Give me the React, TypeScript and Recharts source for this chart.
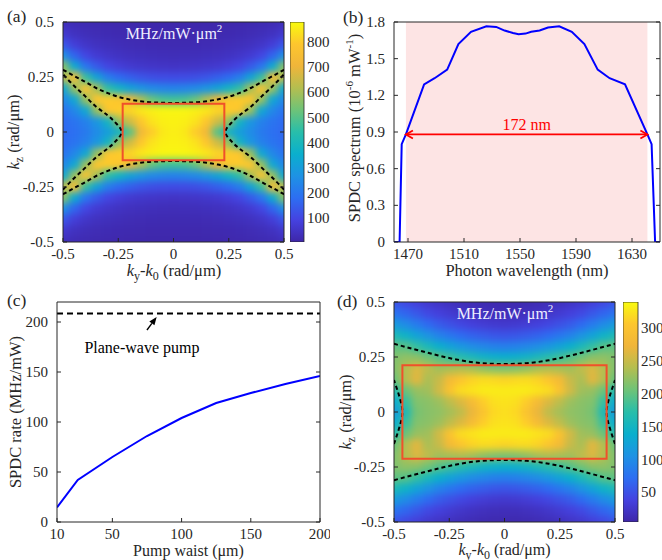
import React from 'react';
import {
  ComposedChart,
  Scatter,
  Line,
  Bar,
  XAxis,
  YAxis,
  ReferenceArea,
  ReferenceLine,
} from 'recharts';

const FONT = '"Liberation Serif", "Times New Roman", serif';
const INK = '#262626';
const TICK = { fill: INK, fontSize: 15, fontFamily: FONT };
const RED = '#ff0000';
const BOX_RED = '#f0502a';
const BLUE = '#0000ff';
const PINK = '#fde4e4';

// parula-like colour map, low -> high (equal steps)
const PARULA = ['#3e26a8', '#4542e0', '#2d6ef2', '#1e92e4', '#0aafcd', '#28beaa', '#6ec378', '#b4be50', '#f0b53a', '#fdc62e', '#f9fb0e'];

// (a) and (d): SPDC maps on a 0.05 rad/um grid. Only the ky>=0, kz>=0 quarter is kept,
// both maps are symmetric in ky and kz. Rows are kz, columns are ky (both = K_GRID).
const K_GRID = [0, 0.05, 0.1, 0.15, 0.2, 0.25, 0.3, 0.35, 0.4, 0.45, 0.5];
const K_STEP = 0.05;
const K_TICKS = [-0.5, -0.25, 0, 0.25, 0.5];

const MAP_A = [
  [860, 850, 800, 720, 500, 370, 300, 250, 210, 185, 170],
  [865, 860, 840, 790, 660, 580, 380, 280, 225, 195, 175],
  [870, 870, 860, 845, 815, 800, 790, 580, 330, 240, 195],
  [470, 480, 520, 610, 720, 790, 800, 790, 580, 330, 240],
  [230, 235, 250, 280, 320, 380, 450, 600, 780, 580, 330],
  [110, 112, 118, 130, 150, 175, 220, 320, 460, 750, 620],
  [50, 52, 55, 60, 68, 80, 100, 140, 200, 340, 560],
  [30, 31, 33, 36, 40, 46, 56, 72, 100, 160, 260],
  [20, 21, 22, 24, 26, 30, 35, 42, 55, 80, 130],
  [14, 14, 15, 16, 17, 19, 22, 26, 32, 42, 65],
  [10, 10, 10, 11, 12, 13, 15, 17, 20, 25, 35],
];
const MAP_A_RANGE: [number, number] = [5, 880];
const MAP_A_CBAR = [100, 200, 300, 400, 500, 600, 700, 800];
// dashed boundaries, [ky, kz] for ky >= 0
const A_OUTER = [[0, 0.132], [0.05, 0.133], [0.1, 0.135], [0.15, 0.14], [0.2, 0.148], [0.25, 0.16], [0.3, 0.178], [0.35, 0.2], [0.4, 0.228], [0.45, 0.255], [0.5, 0.283]];
const A_INNER = [[0.235, 0], [0.26, 0.04], [0.3, 0.077], [0.35, 0.115], [0.4, 0.163], [0.45, 0.21], [0.5, 0.262]];
const A_BOX = [0.23, 0.128];

const MAP_D = [
  [322, 318, 300, 270, 245, 232, 222, 218, 210, 160, 115],
  [325, 322, 310, 285, 262, 245, 228, 220, 215, 180, 135],
  [330, 330, 330, 325, 320, 300, 255, 230, 225, 205, 170],
  [315, 318, 320, 315, 305, 285, 250, 235, 265, 240, 205],
  [215, 218, 225, 235, 240, 235, 232, 245, 262, 240, 215],
  [140, 142, 148, 158, 170, 182, 195, 208, 220, 222, 215],
  [88, 90, 95, 102, 112, 125, 140, 158, 178, 195, 200],
  [52, 54, 58, 63, 70, 80, 92, 108, 125, 145, 160],
  [28, 29, 32, 36, 42, 50, 58, 70, 85, 100, 115],
  [15, 16, 18, 21, 25, 30, 36, 44, 55, 66, 78],
  [10, 10, 11, 13, 16, 19, 23, 28, 35, 43, 52],
];
const MAP_D_RANGE: [number, number] = [5, 340];
const MAP_D_CBAR = [50, 100, 150, 200, 250, 300];
const D_OUTER = [[0, 0.218], [0.1, 0.222], [0.2, 0.235], [0.3, 0.257], [0.4, 0.283], [0.5, 0.31]];
const D_INNER = [[0.462, 0], [0.47, 0.05], [0.485, 0.1], [0.5, 0.145]];
const D_BOX = [0.462, 0.212];

// (b) SPDC spectrum
const WAVELENGTH = [1460, 1464, 1465.5, 1468.5, 1481.5, 1489, 1498, 1506, 1515, 1526, 1533, 1539, 1545, 1549, 1554, 1558, 1564, 1570, 1578, 1587, 1596, 1605.5, 1614, 1625, 1641, 1644, 1646.5, 1650];
const SPECTRUM = [0, 0, 0.8, 0.88, 1.29, 1.34, 1.41, 1.62, 1.72, 1.765, 1.76, 1.73, 1.71, 1.7, 1.705, 1.72, 1.73, 1.755, 1.765, 1.72, 1.62, 1.41, 1.34, 1.29, 0.88, 0.8, 0, 0];
const WL_TICKS = [1470, 1510, 1550, 1590, 1630];
const SPEC_TICKS = [0, 0.3, 0.6, 0.9, 1.2, 1.5, 1.8];
const PASSBAND = [1468.5, 1641];
const FWHM_LEVEL = 0.88;
const FWHM_LABEL = '172 nm';

// (c) SPDC rate vs pump waist
const WAIST = [10, 25, 50, 75, 100, 125, 150, 175, 200];
const RATE = [14.5, 42, 65, 86, 104, 119, 129, 138, 146];
const WAIST_TICKS = [10, 50, 100, 150, 200];
const RATE_TICKS = [0, 50, 100, 150, 200];
const PLANE_WAVE_RATE = 208.5;
const POINTER = [{ x: 75, y: 192 }, { x: 82, y: 205 }];
const POINTER_LABEL = 'Plane-wave pump';

const PANEL_H = 280;
const TICK_LEN = 4;
const NO_GAP = 0.01; // tick size / margin: labels are placed by the tick renderers below

function rgbOf(h: string) {
  return [1, 3, 5].map((i) => parseInt(h.slice(i, i + 2), 16));
}

function parula(t: number) {
  const u = Math.min(1, Math.max(0, t)) * (PARULA.length - 1);
  const i = Math.min(PARULA.length - 2, Math.floor(u));
  const f = u - i;
  const a = rgbOf(PARULA[i]);
  const b = rgbOf(PARULA[i + 1]);
  const c = a.map((v, k) => Math.round(v + (b[k] - v) * f));
  return `rgb(${c[0]},${c[1]},${c[2]})`;
}

function unfold(quarter: number[][]) {
  const cells: { x: number; y: number; v: number }[] = [];
  quarter.forEach((row, i) =>
    row.forEach((v, j) => {
      for (const sy of i === 0 ? [1] : [1, -1])
        for (const sx of j === 0 ? [1] : [1, -1])
          cells.push({ x: sx * K_GRID[j], y: sy * K_GRID[i], v });
    }),
  );
  return cells;
}

// boundary running across ky (upper or lower)
function acrossKy(half: number[][], sign: number) {
  const left = half.slice(1).reverse().map(([x, y]) => ({ x: -x, y: sign * y }));
  const right = half.map(([x, y]) => ({ x, y: sign * y }));
  return [...left, ...right];
}

// boundary running across kz (left or right branch)
function acrossKz(half: number[][], sign: number) {
  const low = half.slice(1).reverse().map(([x, y]) => ({ x: sign * x, y: -y }));
  const high = half.map(([x, y]) => ({ x: sign * x, y }));
  return [...low, ...high];
}

// MATLAB style ticks: short marks pointing into the plot, labels outside
const BottomTick = (p: any) => (
  <g>
    <line x1={p.x} x2={p.x} y1={p.y} y2={p.y - TICK_LEN} stroke={INK} />
    <text x={p.x} y={p.y + 17} textAnchor="middle" {...TICK}>{String(p.payload.value)}</text>
  </g>
);
const LeftTick = (p: any) => (
  <g>
    <line x1={p.x} x2={p.x + TICK_LEN} y1={p.y} y2={p.y} stroke={INK} />
    <text x={p.x - 9} y={p.y + 5} textAnchor="end" {...TICK}>{String(p.payload.value)}</text>
  </g>
);
const TopTick = (p: any) => <line x1={p.x} x2={p.x} y1={p.y} y2={p.y + TICK_LEN} stroke={INK} />;
const RightTick = (p: any) => <line x1={p.x} x2={p.x - TICK_LEN} y1={p.y} y2={p.y} stroke={INK} />;
const BarTick = (p: any) => (
  <text x={p.x + 3} y={p.y + 5} textAnchor="start" {...TICK}>{String(p.payload.value)}</text>
);

const DoubleArrow = (p: any) => {
  const { x1, y1, x2, y2 } = p;
  const h = 7;
  const s = 4;
  return (
    <g>
      <line x1={x1} y1={y1} x2={x2} y2={y2} stroke={RED} strokeWidth={1.8} />
      <polyline points={`${x1 + h},${y1 - s} ${x1},${y1} ${x1 + h},${y1 + s}`} stroke={RED} strokeWidth={1.8} fill="none" />
      <polyline points={`${x2 - h},${y2 - s} ${x2},${y2} ${x2 - h},${y2 + s}`} stroke={RED} strokeWidth={1.8} fill="none" />
      <text x={(x1 + x2) / 2} y={y1 - 4} textAnchor="middle" fill={RED} fontSize={16} fontFamily={FONT}>
        {FWHM_LABEL}
      </text>
    </g>
  );
};

const Pointer = (p: any) => {
  const { x1, y1, x2, y2 } = p;
  const a = Math.atan2(y2 - y1, x2 - x1);
  const c = Math.cos(a);
  const s = Math.sin(a);
  const L = 8;
  const w = 3.2;
  const bx = x2 - L * c;
  const by = y2 - L * s;
  return (
    <g>
      <line x1={x1} y1={y1} x2={bx} y2={by} stroke="#000" strokeWidth={1.4} />
      <polygon points={`${x2},${y2} ${bx - s * w},${by + c * w} ${bx + s * w},${by - c * w}`} fill="#000" />
      <text x={x1 - 5} y={y1 + 23} textAnchor="middle" fill="#000" fontSize={16} fontFamily={FONT}>
        {POINTER_LABEL}
      </text>
    </g>
  );
};

function FrameAxes({ xDomain, xTicks, yDomain, yTicks, yWidth }: any) {
  const common = { interval: 0 as const, allowDataOverflow: true, tickLine: false, tickSize: NO_GAP, tickMargin: NO_GAP, stroke: INK };
  return [
    <XAxis key="xb" xAxisId={0} type="number" dataKey="x" domain={xDomain} ticks={xTicks} height={30} tick={BottomTick} {...common} />,
    <XAxis key="xt" xAxisId="t" orientation="top" type="number" domain={xDomain} ticks={xTicks} height={1} tick={TopTick} {...common} />,
    <YAxis key="yl" yAxisId={0} type="number" dataKey="y" domain={yDomain} ticks={yTicks} width={yWidth} tick={LeftTick} {...common} />,
    <YAxis key="yr" yAxisId="r" orientation="right" type="number" domain={yDomain} ticks={yTicks} width={1} tick={RightTick} {...common} />,
  ];
}

function HeatPanel({ map, range, outer, inner, box, margin, width }: any) {
  const plotW = width - margin.left - margin.right - 50 - 1;
  const plotH = PANEL_H - margin.top - margin.bottom - 1 - 30;
  const cw = plotW * K_STEP;
  const ch = plotH * K_STEP;
  const cells = unfold(map);
  const cell = (p: any) => (
    <rect
      x={p.cx - cw / 2 - 0.5}
      y={p.cy - ch / 2 - 0.5}
      width={cw + 1}
      height={ch + 1}
      fill={parula((p.payload.v - range[0]) / (range[1] - range[0]))}
    />
  );
  const curves = [acrossKy(outer, 1), acrossKy(outer, -1), acrossKz(inner, 1), acrossKz(inner, -1)];
  return (
    <ComposedChart width={width} height={PANEL_H} margin={margin}>
      {FrameAxes({ xDomain: [-0.5, 0.5], xTicks: K_TICKS, yDomain: [-0.5, 0.5], yTicks: K_TICKS, yWidth: 50 })}
      <Scatter data={cells} className="heat-cells" shape={cell} isAnimationActive={false} zIndex={50} />
      {curves.map((pts, i) => (
        <Line key={i} data={pts} dataKey="y" type="natural" stroke="#000" strokeWidth={2}
          strokeDasharray="4 3" dot={false} activeDot={false} isAnimationActive={false} zIndex={700} />
      ))}
      <ReferenceArea x1={-box[0]} x2={box[0]} y1={-box[1]} y2={box[1]} fill="none" stroke={BOX_RED}
        strokeWidth={2} zIndex={800} />
    </ComposedChart>
  );
}

// colour bar: one ranged bar spanning the colour scale, filled with the colour-map gradient
function ColorBar({ range, ticks, width, barWidth }: any) {
  const data = [{ k: 'scale', v: range }];
  return (
    <ComposedChart width={width} height={PANEL_H} data={data} barCategoryGap={0}
      margin={{ top: 22, right: 0, bottom: 38, left: 0 }}>
      <XAxis type="category" dataKey="k" hide />
      <YAxis orientation="right" type="number" domain={range} ticks={ticks} interval={0} allowDataOverflow
        width={width - barWidth} tick={BarTick} tickLine={false} tickSize={NO_GAP} tickMargin={NO_GAP} axisLine={false} />
      <Bar dataKey="v" fill="url(#parulaBar)" stroke={INK} strokeWidth={0.8} isAnimationActive={false} />
    </ComposedChart>
  );
}

function SpectrumPanel() {
  const data = WAVELENGTH.map((x, i) => ({ x, y: SPECTRUM[i] }));
  return (
    <ComposedChart width={332} height={PANEL_H} margin={{ top: 21, right: 1, bottom: 8, left: 14 }}>
      {FrameAxes({ xDomain: [1460, 1650], xTicks: WL_TICKS, yDomain: [0, 1.8], yTicks: SPEC_TICKS, yWidth: 50 })}
      <ReferenceArea x1={PASSBAND[0]} x2={PASSBAND[1]} y1={0} y2={1.8} fill={PINK} fillOpacity={1} stroke="none" />
      <Line data={data} dataKey="y" type="linear" stroke={BLUE} strokeWidth={2} dot={false} activeDot={false}
        isAnimationActive={false} />
      <ReferenceLine segment={[{ x: PASSBAND[0], y: FWHM_LEVEL }, { x: PASSBAND[1], y: FWHM_LEVEL }]}
        shape={DoubleArrow} />
    </ComposedChart>
  );
}

function RatePanel() {
  const data = WAIST.map((x, i) => ({ x, y: RATE[i] }));
  return (
    <ComposedChart width={330} height={PANEL_H} margin={{ top: 21, right: 9, bottom: 8, left: 12 }}>
      {FrameAxes({ xDomain: [10, 200], xTicks: WAIST_TICKS, yDomain: [0, 220], yTicks: RATE_TICKS, yWidth: 45 })}
      <ReferenceLine y={PLANE_WAVE_RATE} stroke="#000" strokeWidth={2} strokeDasharray="6 4" />
      <Line data={data} dataKey="y" type="linear" stroke={BLUE} strokeWidth={2} dot={false} activeDot={false}
        isAnimationActive={false} />
      <ReferenceLine segment={POINTER} shape={Pointer} />
    </ComposedChart>
  );
}

const box = (left: number, top: number, width: number): React.CSSProperties => ({
  position: 'absolute',
  left,
  top,
  width,
  height: PANEL_H,
});

const KTitle = ({ sub }: { sub: string }) => (
  <>
    <tspan fontStyle="italic">k</tspan>
    <tspan fontSize={12} dy={4}>{sub}</tspan>
  </>
);

export default function App() {
  return (
    <div style={{ position: 'absolute', left: 0, top: 0, width: 662, height: 560, background: '#fff', overflow: 'hidden' }}>
      <style>{'.heat-cells{filter:url(#heatBlur)}'}</style>
      <svg width={0} height={0} style={{ position: 'absolute' }}>
        <defs>
          <linearGradient id="parulaBar" x1="0" y1="1" x2="0" y2="0">
            {PARULA.map((c, i) => (
              <stop key={i} offset={i / (PARULA.length - 1)} stopColor={c} />
            ))}
          </linearGradient>
          <filter id="heatBlur" x="-5%" y="-5%" width="110%" height="110%" colorInterpolationFilters="sRGB">
            <feGaussianBlur stdDeviation="3.6" />
            <feComponentTransfer>
              <feFuncA type="linear" slope="20" intercept="0" />
            </feComponentTransfer>
          </filter>
        </defs>
      </svg>

      <div style={box(0, 0, 300)}>
        <HeatPanel map={MAP_A} range={MAP_A_RANGE} outer={A_OUTER} inner={A_INNER} box={A_BOX}
          width={300} margin={{ top: 21, right: 15, bottom: 8, left: 13 }} />
      </div>
      <div style={box(290, 0, 60)}>
        <ColorBar range={MAP_A_RANGE} ticks={MAP_A_CBAR} width={60} barWidth={14} />
      </div>
      <div style={box(330, 0, 332)}>
        <SpectrumPanel />
      </div>
      <div style={box(0, 280, 330)}>
        <RatePanel />
      </div>
      <div style={box(330, 280, 300)}>
        <HeatPanel map={MAP_D} range={MAP_D_RANGE} outer={D_OUTER} inner={D_INNER} box={D_BOX}
          width={300} margin={{ top: 21, right: 14, bottom: 8, left: 14 }} />
      </div>
      <div style={box(623, 280, 39)}>
        <ColorBar range={MAP_D_RANGE} ticks={MAP_D_CBAR} width={39} barWidth={15} />
      </div>

      <svg width={662} height={560} style={{ position: 'absolute', left: 0, top: 0, pointerEvents: 'none' }}
        fontFamily={FONT} fill={INK}>
        <g fontSize={17.5}>
          <text x={7} y={22}>(a)</text>
          <text x={343} y={23}>(b)</text>
          <text x={7} y={306}>(c)</text>
          <text x={337} y={307}>(d)</text>
        </g>
        <g fontSize={16.5} textAnchor="middle">
          <text transform="translate(19,132) rotate(-90)">
            <KTitle sub="z" /><tspan dy={-4}> (rad/μm)</tspan>
          </text>
          <text x={174} y={276}>
            <KTitle sub="y" /><tspan dy={-4}>-</tspan><KTitle sub="0" /><tspan dy={-4}> (rad/μm)</tspan>
          </text>
          <text transform="translate(360,128) rotate(-90)">
            SPDC spectrum (10<tspan fontSize={11} dy={-7}>-6</tspan><tspan dy={7}> mW</tspan>
            <tspan fontSize={11} dy={-7}>-1</tspan><tspan dy={7}>)</tspan>
          </text>
          <text x={527} y={276}>Photon wavelength (nm)</text>
          <text transform="translate(21,412) rotate(-90)">SPDC rate (MHz/mW)</text>
          <text x={188.5} y={556} fontSize={16}>Pump waist (μm)</text>
          <text transform="translate(351,412) rotate(-90)">
            <KTitle sub="z" /><tspan dy={-4}> (rad/μm)</tspan>
          </text>
          <text x={504.5} y={555} fontSize={16}>
            <KTitle sub="y" /><tspan dy={-4}>-</tspan><KTitle sub="0" /><tspan dy={-4}> (rad/μm)</tspan>
          </text>
        </g>
        <g fontSize={16} textAnchor="middle" fill="#eeeeff">
          <text x={174} y={39}>
            MHz/mW·μm<tspan fontSize={11} dy={-7}>2</tspan>
          </text>
          <text x={505} y={319}>
            MHz/mW·μm<tspan fontSize={11} dy={-7}>2</tspan>
          </text>
        </g>
      </svg>
    </div>
  );
}
